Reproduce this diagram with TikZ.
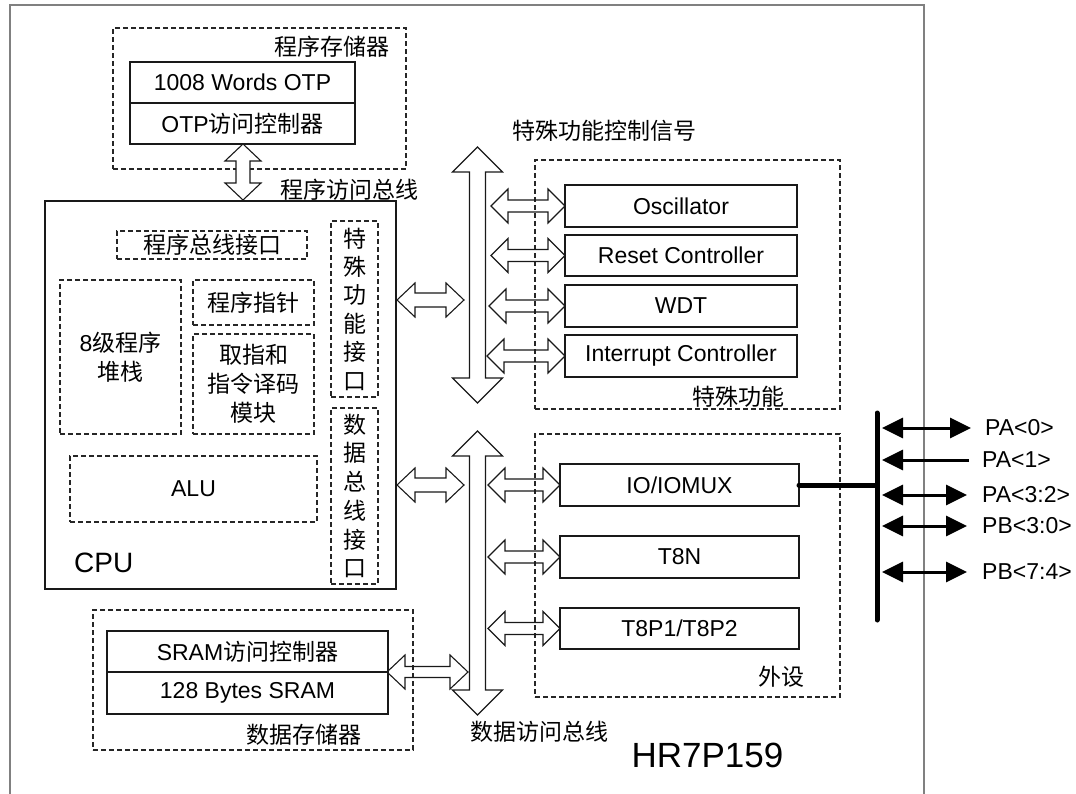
\documentclass[tikz,border=0pt]{standalone}
\usepackage{fontspec}
\setmainfont{Liberation Sans}
\newfontfamily\cjk{Noto Sans CJK SC}
\usetikzlibrary{arrows.meta}
\newcommand\hollowH[7][]{\draw[hollow,#1] (#2,#4) -- (#2+#7,#4-#5) -- (#2+#7,#4-#6) -- (#3-#7,#4-#6) -- (#3-#7,#4-#5) -- (#3,#4) -- (#3-#7,#4+#5) -- (#3-#7,#4+#6) -- (#2+#7,#4+#6) -- (#2+#7,#4+#5) -- cycle;}
\newcommand\hollowV[7][]{\draw[hollow,#1] (#2,#3) -- (#2+#5,#3+#7) -- (#2+#6,#3+#7) -- (#2+#6,#4-#7) -- (#2+#5,#4-#7) -- (#2,#4) -- (#2-#5,#4-#7) -- (#2-#6,#4-#7) -- (#2-#6,#3+#7) -- (#2-#5,#3+#7) -- cycle;}
\tikzset{
  box/.style={draw=black!90, line width=1.1pt, inner sep=0pt, outer sep=0pt, font=\fontsize{23}{28.5}\selectfont, align=center},
  dbox/.style={draw=black!85, line width=1.1pt, dash pattern=on 5pt off 3pt, inner sep=0pt, outer sep=0pt, font=\fontsize{23}{29}\selectfont, align=center},
  hollow/.style={draw=black!90, line width=1.1pt, line join=miter},
  txt/.style={font=\fontsize{23}{28.5}\selectfont, inner sep=0pt, align=center},
  frame/.style={draw=black!50, line width=1.3pt},
  iobus/.style={line width=5pt, line cap=round},
  pin/.style={line width=3pt, -{Triangle[length=21pt,width=20pt]}},
  pinb/.style={line width=3pt, {Triangle[length=21pt,width=20pt]}-{Triangle[length=21pt,width=20pt]}},
}
\begin{document}
\begin{tikzpicture}[x=1pt,y=-1pt]
\useasboundingbox (0,0) rectangle (1076,794);
% outer frame
\draw[frame] (10,794) -- (10,5) -- (924,5) -- (924,794);
% program memory
\node[dbox, minimum width=293, minimum height=141] (pm) at (259.5,98.5) {};
\node[txt, anchor=east] (pmlbl) at (390,47) {\cjk 程序存储器};
\node[box, minimum width=225, minimum height=41] (otp) at (242.5,82.5) {1008 Words OTP};
\node[box, minimum width=225, minimum height=41] (otpc) at (242.5,123.5) {OTP{\cjk 访问控制器}};
\hollowV[fill=white]{243}{144}{200}{18}{7}{17}
\node[txt] (pblbl) at (349,190) {\cjk 程序访问总线};
% CPU
\node[box, minimum width=351, minimum height=388] (cpu) at (220.5,395) {};
\node[txt, anchor=west, font=\fontsize{28}{32}\selectfont] (cpulbl) at (74,563) {CPU};
\node[dbox, minimum width=190, minimum height=28] (pbi) at (212,245) {\cjk 程序总线接口};
\node[dbox, minimum width=121, minimum height=154] (stk) at (120.5,357) {8{\cjk 级程序}\\{\cjk 堆栈}};
\node[dbox, minimum width=121, minimum height=45] (pc) at (253.5,302.5) {\cjk 程序指针};
\node[dbox, minimum width=121, minimum height=100] (dec) at (253.5,384) {\cjk 取指和\\\cjk 指令译码\\\cjk 模块};
\node[dbox, minimum width=247, minimum height=66] (alu) at (193.5,489) {ALU};
\node[dbox, minimum width=47, minimum height=176, font=\fontsize{23}{28.4}\selectfont] (sfi) at (354.5,309) {\cjk 特\\\cjk 殊\\\cjk 功\\\cjk 能\\\cjk 接\\\cjk 口};
\node[dbox, minimum width=47, minimum height=176, font=\fontsize{23}{28.7}\selectfont] (dbi) at (354.5,496) {\cjk 数\\\cjk 据\\\cjk 总\\\cjk 线\\\cjk 接\\\cjk 口};
% special function
\node[txt] (sflbl) at (604.5,131) {\cjk 特殊功能控制信号};
\node[dbox, minimum width=305, minimum height=249] (sf) at (687.5,284.5) {};
\node[txt, anchor=east] (sfname) at (785,397) {\cjk 特殊功能};
\node[box, minimum width=232, minimum height=42] (osc) at (681,206) {Oscillator};
\node[box, minimum width=232, minimum height=41] (rst) at (681,255.5) {Reset Controller};
\node[box, minimum width=232, minimum height=42] (wdt) at (681,306) {WDT};
\node[box, minimum width=232, minimum height=42] (irq) at (681,356) {Interrupt Controller};
\hollowV{477.5}{147}{403}{25}{8}{25}
\hollowH{491}{565}{206}{17}{6}{17}
\hollowH{491}{565}{255.5}{17}{6}{17}
\hollowH{489}{565}{306}{17}{6}{17}
\hollowH{487}{565}{356}{17}{6}{17}
\hollowH{397}{464}{300}{17}{7}{18}
% peripherals
\node[dbox, minimum width=305, minimum height=263] (per) at (687.5,565.5) {};
\node[txt, anchor=east] (perlbl) at (805,677) {\cjk 外设};
\node[box, minimum width=239, minimum height=42] (io) at (679.5,485) {IO/IOMUX};
\node[box, minimum width=239, minimum height=42] (t8n) at (679.5,557) {T8N};
\node[box, minimum width=239, minimum height=41] (t8p) at (679.5,628.5) {T8P1/T8P2};
\hollowV{477.5}{431}{715}{25}{8}{25}
\hollowH{488}{560}{485}{17}{6}{17}
\hollowH{488}{560}{557}{17}{6}{17}
\hollowH{488}{560}{628.5}{17}{6}{17}
\hollowH{397}{464}{485}{17}{7}{18}
\node[txt] (dblbl) at (539,732) {\cjk 数据访问总线};
% data memory
\node[dbox, minimum width=320, minimum height=140] (dm) at (253,680) {};
\node[txt, anchor=east] (dmlbl) at (362,735) {\cjk 数据存储器};
\node[box, minimum width=281, minimum height=41] (sramc) at (247.5,651.5) {SRAM{\cjk 访问控制器}};
\node[box, minimum width=281, minimum height=42] (sram) at (247.5,693) {128 Bytes SRAM};
\hollowH{387}{468}{672}{17}{5.5}{18}
% chip name
\node[txt, font=\fontsize{35}{40}\selectfont] (chip) at (707.5,755) {HR7P159};
% IO pins
\coordinate (bt) at (877,413);
\coordinate (bb) at (877,620);
\coordinate (bj) at (877,485);
\draw[iobus] (bt) -- (bb);
\draw[iobus] (io.east) -- (bj);
\node[txt, anchor=west] (pa0) at (985,428) {PA<0>};
\node[txt, anchor=west] (pa1) at (982,460) {PA<1>};
\node[txt, anchor=west] (pa32) at (982,495) {PA<3:2>};
\node[txt, anchor=west] (pb30) at (982,526) {PB<3:0>};
\node[txt, anchor=west] (pb74) at (982,572) {PB<7:4>};
\draw[pinb] (882,428) -- ([xshift=-14pt]pa0.west);
\draw[pin] ([xshift=-13pt]pa1.west) -- (882,460);
\draw[pinb] (882,495) -- ([xshift=-15pt]pa32.west);
\draw[pinb] (882,526) -- ([xshift=-15pt]pb30.west);
\draw[pinb] (882,572) -- ([xshift=-15pt]pb74.west);
\end{tikzpicture}
\end{document}
